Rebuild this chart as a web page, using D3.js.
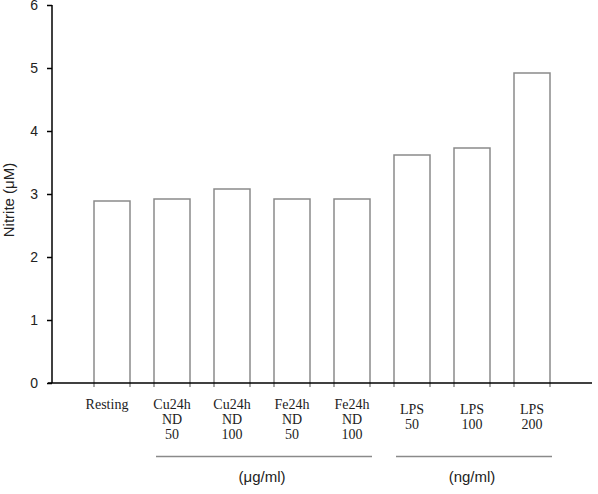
<!DOCTYPE html>
<html>
<head>
<meta charset="utf-8">
<script src="https://cdn.jsdelivr.net/npm/d3@7"></script>
<style>
html,body{margin:0;padding:0;background:#fff;}
svg{display:block;}
</style>
</head>
<body>
<svg id="chart" width="598" height="494"></svg>
<script>
const categories = ["Resting","Cu24h ND 50","Cu24h ND 100","Fe24h ND 50","Fe24h ND 100","LPS 50","LPS 100","LPS 200"];
const labelLines = [["Resting"],["Cu24h","ND","50"],["Cu24h","ND","100"],["Fe24h","ND","50"],["Fe24h","ND","100"],["LPS","50"],["LPS","100"],["LPS","200"]];
const values = [2.89, 2.92, 3.08, 2.92, 2.92, 3.62, 3.73, 4.92];
const yTicks = [0,1,2,3,4,5,6];
const groups = [
  {label:"(\u03bcg/ml)", from:"Cu24h ND 50", to:"Fe24h ND 100"},
  {label:"(ng/ml)", from:"LPS 50", to:"LPS 200"}
];

const svg = d3.select("#chart");
const y = d3.scaleLinear().domain([0,6]).range([383,5]);
const x = d3.scaleBand().domain(categories).range([52,592]).paddingInner(0.4).paddingOuter(0.7);

// bars (three-sided, extending slightly below baseline)
svg.append("g").selectAll("path").data(categories).join("path")
  .attr("d",(c,i)=>{
    const x0 = x(c), x1 = x(c)+x.bandwidth(), yt = y(values[i]), yb = y(0)+4;
    return `M${x0},${yb}V${yt}H${x1}V${yb}`;
  })
  .attr("fill","#fff").attr("stroke","#8a8a8a").attr("stroke-width",1.5);

// baseline
svg.append("line").attr("x1",48).attr("x2",592).attr("y1",y(0)).attr("y2",y(0))
  .attr("stroke","#000").attr("stroke-width",1.5);

// y axis
const yAxis = d3.axisLeft(y).tickValues(yTicks).tickSize(5).tickPadding(9).tickFormat(d3.format("d"));
const gy = svg.append("g").attr("transform","translate(52,0)").call(yAxis);
gy.select(".domain").attr("stroke","#000").attr("stroke-width",1.5).attr("d",`M0,${y(6)}V${y(0)}`);
gy.selectAll(".tick line").attr("stroke","#000").attr("stroke-width",1.5);
gy.selectAll(".tick text").attr("font-family","Arial, 'Liberation Sans', sans-serif").attr("font-size",14).attr("fill","#222");

svg.append("text")
  .attr("transform",`translate(14,${(y(0)+y(6))/2 + 6}) rotate(-90)`)
  .attr("text-anchor","middle")
  .attr("font-family","Arial, 'Liberation Sans', sans-serif").attr("font-size",15).attr("fill","#222")
  .text("Nitrite (\u03bcM)");

// category labels
const lab = svg.append("g").attr("font-family","'Liberation Serif', 'Times New Roman', serif").attr("font-size",14).attr("fill","#222").attr("text-anchor","middle");
categories.forEach((c,i)=>{
  const cx = x(c)+x.bandwidth()/2;
  const isLPS = c.startsWith("LPS");
  const base = isLPS ? 414 : 409;
  const lh = 15;
  labelLines[i].forEach((t,j)=>{
    lab.append("text").attr("x", c==="Resting" ? cx-5 : cx).attr("y", base + j*lh).text(t);
  });
});

// group lines and labels
groups.forEach(g=>{
  const x0 = x(g.from), x1 = x(g.to)+x.bandwidth();
  svg.append("line").attr("x1",x0+2).attr("x2",x1+2).attr("y1",456.5).attr("y2",456.5)
    .attr("stroke","#8a8a8a").attr("stroke-width",1.5);
  svg.append("text").attr("x",(x0+x1)/2).attr("y",482).attr("text-anchor","middle")
    .attr("font-family","Arial, 'Liberation Sans', sans-serif").attr("font-size",15).attr("fill","#222")
    .text(g.label);
});
</script>
</body>
</html>
